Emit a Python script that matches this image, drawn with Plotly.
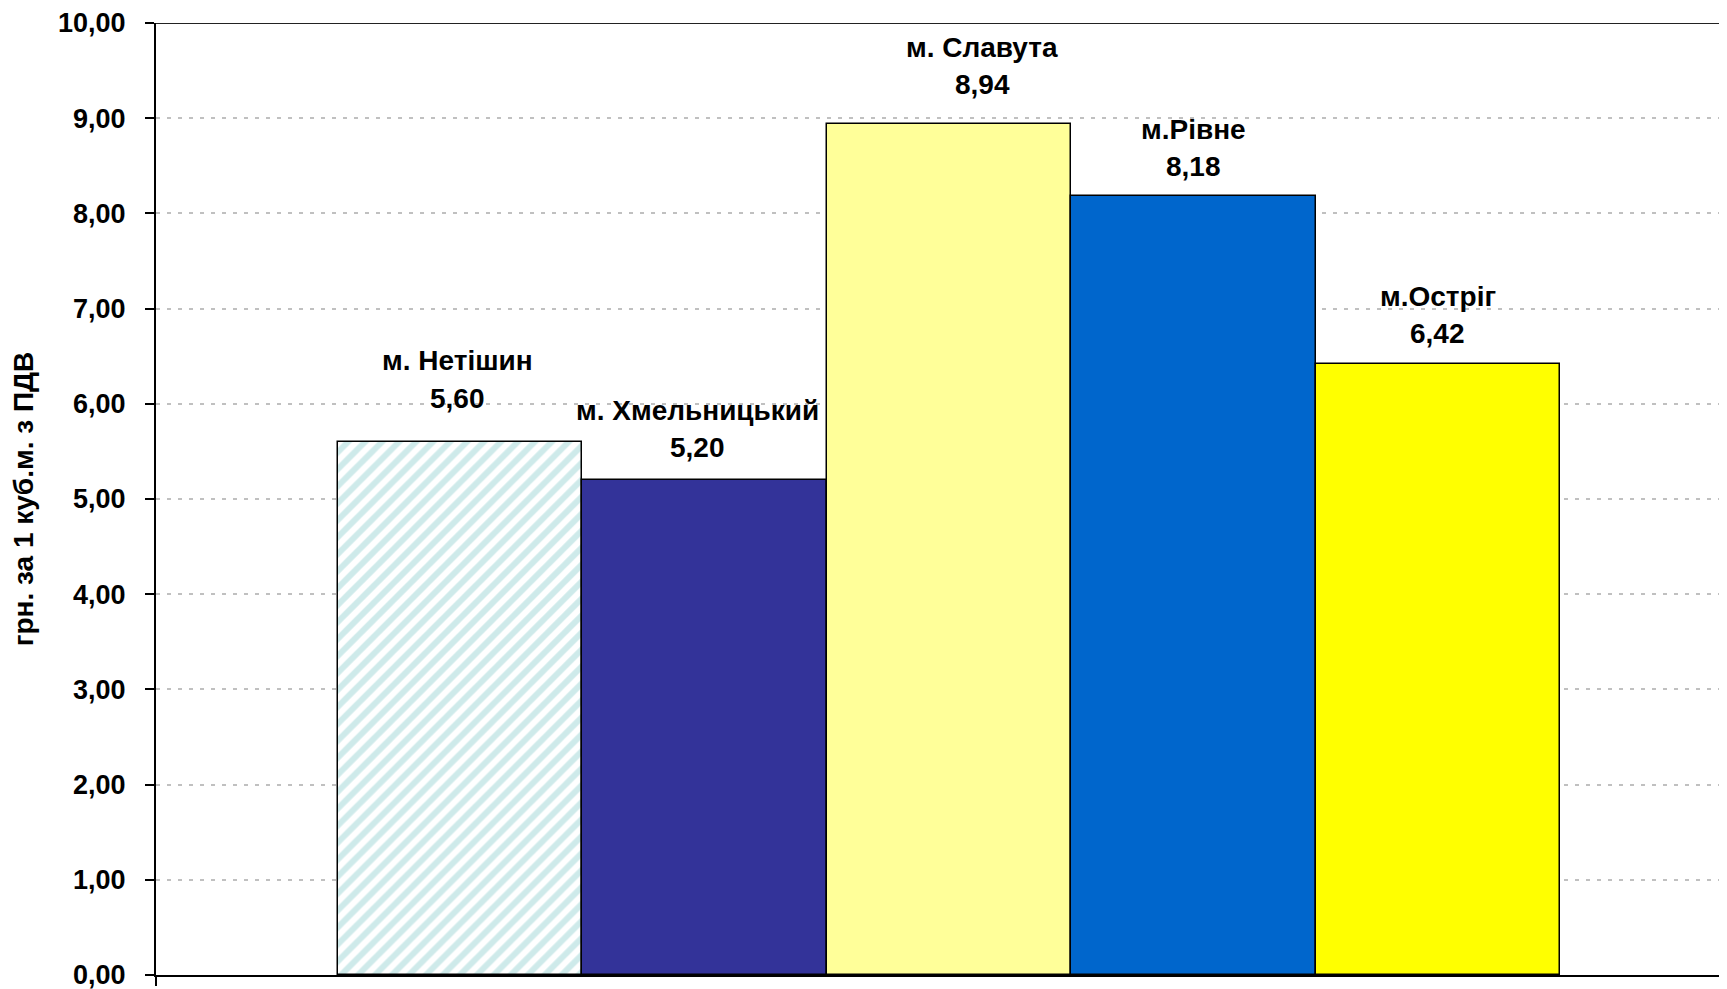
import plotly.graph_objects as go

cities = ["м. Нетішин", "м. Хмельницький", "м. Славута", "м.Рівне", "м.Остріг"]
values = [5.60, 5.20, 8.94, 8.18, 6.42]
value_text = ["5,60", "5,20", "8,94", "8,18", "6,42"]
tick_vals = [0, 1, 2, 3, 4, 5, 6, 7, 8, 9, 10]
tick_text = ["0,00", "1,00", "2,00", "3,00", "4,00", "5,00", "6,00", "7,00", "8,00", "9,00", "10,00"]
y_title = "грн. за 1 куб.м. з ПДВ"

# styling / label placement (pixels)
colors = ["#FFFFFF", "#333399", "#FFFF99", "#0066CC", "#FFFF00"]
name_shift = [81, 69, 76, 67, 67]
value_shift = [43, 32, 39, 30, 30]
label_xshift = [-3, -7, 33, 0, 0]
X_RANGE = [-1.245, 5.183]

FONT = "Liberation Sans, Arial, sans-serif"

fig = go.Figure()
for i, (c, v) in enumerate(zip(cities, values)):
    marker = dict(color=colors[i], line=dict(color="black", width=1.5))
    if i == 0:
        marker["pattern"] = dict(shape="/", fgcolor="#9ED6D6", bgcolor="#FFFFFF",
                                 size=12, solidity=0.5)
    fig.add_trace(go.Bar(x=[i], y=[v], width=1, marker=marker, name=c,
                         showlegend=False, hoverinfo="skip"))
    fig.add_annotation(x=i, y=v, text="<b>%s</b>" % c, showarrow=False,
                       yanchor="middle", yshift=name_shift[i], xshift=label_xshift[i],
                       font=dict(family=FONT, size=28, color="black"))
    fig.add_annotation(x=i, y=v, text="<b>%s</b>" % value_text[i], showarrow=False,
                       yanchor="middle", yshift=value_shift[i], xshift=label_xshift[i],
                       font=dict(family=FONT, size=28, color="black"))

# page body has an 8px default margin, so the figure is offset by 8px
fig.update_layout(
    width=1719, height=981,
    margin=dict(l=148, r=0, t=15, b=14),
    paper_bgcolor="white", plot_bgcolor="white",
    bargap=0,
    xaxis=dict(range=X_RANGE, showticklabels=False, showgrid=False,
               zeroline=False, showline=True, linecolor="black", linewidth=2,
               tickvals=[X_RANGE[0]], ticks="outside", ticklen=9, tickwidth=2,
               tickcolor="black", fixedrange=True, automargin=False),
    yaxis=dict(range=[0, 10], tickvals=tick_vals, ticktext=tick_text,
               tickfont=dict(family=FONT, size=27, color="black", weight="bold"),
               showgrid=True, gridcolor="#C0C0C0", griddash="4px,7px", gridwidth=1.5,
               zeroline=False, showline=True, linecolor="black", linewidth=2,
               ticks="outside", ticklen=9, tickwidth=2, tickcolor="black",
               ticklabelstandoff=14, ticklabeloverflow="allow", automargin=False,
               title=dict(text="<b>%s</b>" % y_title, standoff=16,
                          font=dict(family=FONT, size=28, color="black"))),
)
fig.add_shape(type="line", xref="paper", yref="y", x0=0, x1=1, y0=10, y1=10,
              line=dict(color="#222222", width=2))

fig.write_html("out.html")
